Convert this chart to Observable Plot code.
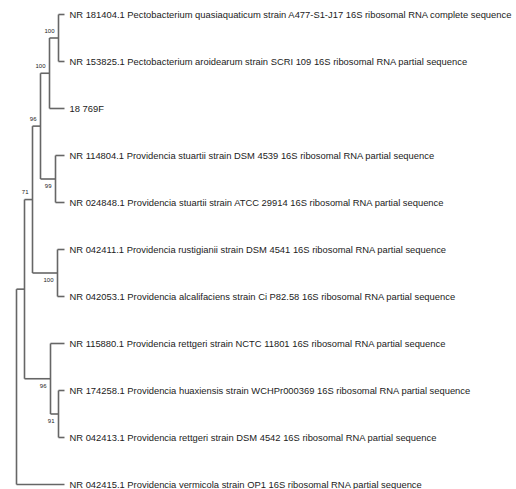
<!DOCTYPE html>
<html>
<head>
<meta charset="utf-8">
<script src="https://cdn.jsdelivr.net/npm/d3@7"></script>
<script src="https://cdn.jsdelivr.net/npm/@observablehq/plot@0.6"></script>
<style>
  html, body { margin: 0; padding: 0; background: #fff; }
  svg { display: block; }
</style>
</head>
<body>
<div id="chart"></div>
<script>
// Tip labels, top to bottom
const tipNames = [
  "NR 181404.1 Pectobacterium quasiaquaticum strain A477-S1-J17 16S ribosomal RNA complete sequence",
  "NR 153825.1 Pectobacterium aroidearum strain SCRI 109 16S ribosomal RNA partial sequence",
  "18 769F",
  "NR 114804.1 Providencia stuartii strain DSM 4539 16S ribosomal RNA partial sequence",
  "NR 024848.1 Providencia stuartii strain ATCC 29914 16S ribosomal RNA partial sequence",
  "NR 042411.1 Providencia rustigianii strain DSM 4541 16S ribosomal RNA partial sequence",
  "NR 042053.1 Providencia alcalifaciens strain Ci P82.58 16S ribosomal RNA partial sequence",
  "NR 115880.1 Providencia rettgeri strain NCTC 11801 16S ribosomal RNA partial sequence",
  "NR 174258.1 Providencia huaxiensis strain WCHPr000369 16S ribosomal RNA partial sequence",
  "NR 042413.1 Providencia rettgeri strain DSM 4542 16S ribosomal RNA partial sequence",
  "NR 042415.1 Providencia vermicola strain OP1 16S ribosomal RNA partial sequence"
];
const tipDepth = 48;

// Internal nodes: id, children (tips as "t#" or node ids), depth, bootstrap
const nodeIds      = ["P", "Q", "R", "S", "T", "U", "X", "W", "V", "root"];
const nodeChildren = [["t0","t1"], ["P","t2"], ["Q","S"], ["t3","t4"], ["R","U"], ["t5","t6"], ["t8","t9"], ["t7","X"], ["T","W"], ["V","t10"]];
const nodeDepth    = [42, 33, 24, 39, 16, 41, 42, 34, 8, 0];
const bootstrap    = [100, 100, 96, 99, 71, 100, 91, 96, null, null];

// ---- layout derived from the arrays above ----
const idx = {};
nodeIds.forEach((id, i) => { idx[id] = i; });
const pos = {};
tipNames.forEach((n, i) => { pos["t" + i] = {x: tipDepth, y: i}; });
function place(id) {
  if (pos[id]) return pos[id];
  const i = idx[id];
  const ys = nodeChildren[i].map(c => place(c).y);
  pos[id] = {x: nodeDepth[i], y: (ys[0] + ys[ys.length - 1]) / 2};
  return pos[id];
}
nodeIds.forEach(place);
const parentOf = {};
nodeIds.forEach((id, i) => nodeChildren[i].forEach((c, k) => { parentOf[c] = {p: id, first: k === 0}; }));

const hLinks = [], vLinks = [];
nodeIds.forEach((id, i) => {
  const ch = nodeChildren[i].map(c => pos[c]);
  vLinks.push({x: pos[id].x, y1: ch[0].y, y2: ch[ch.length - 1].y});
  ch.forEach(c => hLinks.push({x1: pos[id].x, x2: c.x, y: c.y}));
});

const tips = tipNames.map((n, i) => ({name: n, x: tipDepth, y: i}));
const boots = nodeIds.map((id, i) => ({
  label: bootstrap[i], x: pos[id].x, y: pos[id].y, above: parentOf[id] ? parentOf[id].first : true
})).filter(d => d.label != null);

const lineColor = "#666";
const chart = Plot.plot({
  width: 516,
  height: 489,
  margin: 0,
  style: {fontFamily: "'Liberation Sans', Arial, sans-serif", background: "#fff"},
  x: {domain: [0, 48], range: [16, 64], axis: null},
  y: {domain: [0, 10], range: [14, 484], axis: null},
  marks: [
    Plot.link(hLinks, {x1: "x1", x2: "x2", y1: "y", y2: "y", stroke: lineColor, strokeWidth: 1.6}),
    Plot.link(vLinks, {x1: "x", x2: "x", y1: "y1", y2: "y2", stroke: lineColor, strokeWidth: 1.6}),
    Plot.text(tips, {x: "x", y: "y", text: "name", textAnchor: "start", dx: 5, fontSize: 9.4, fill: "#222"}),
    Plot.text(boots.filter(d => d.above), {x: "x", y: "y", text: "label", textAnchor: "end", dx: -4, dy: -7, fontSize: 6, fill: "#222"}),
    Plot.text(boots.filter(d => !d.above), {x: "x", y: "y", text: "label", textAnchor: "end", dx: -4, dy: 7, fontSize: 6, fill: "#222"})
  ]
});
document.getElementById("chart").appendChild(chart);
</script>
</body>
</html>
